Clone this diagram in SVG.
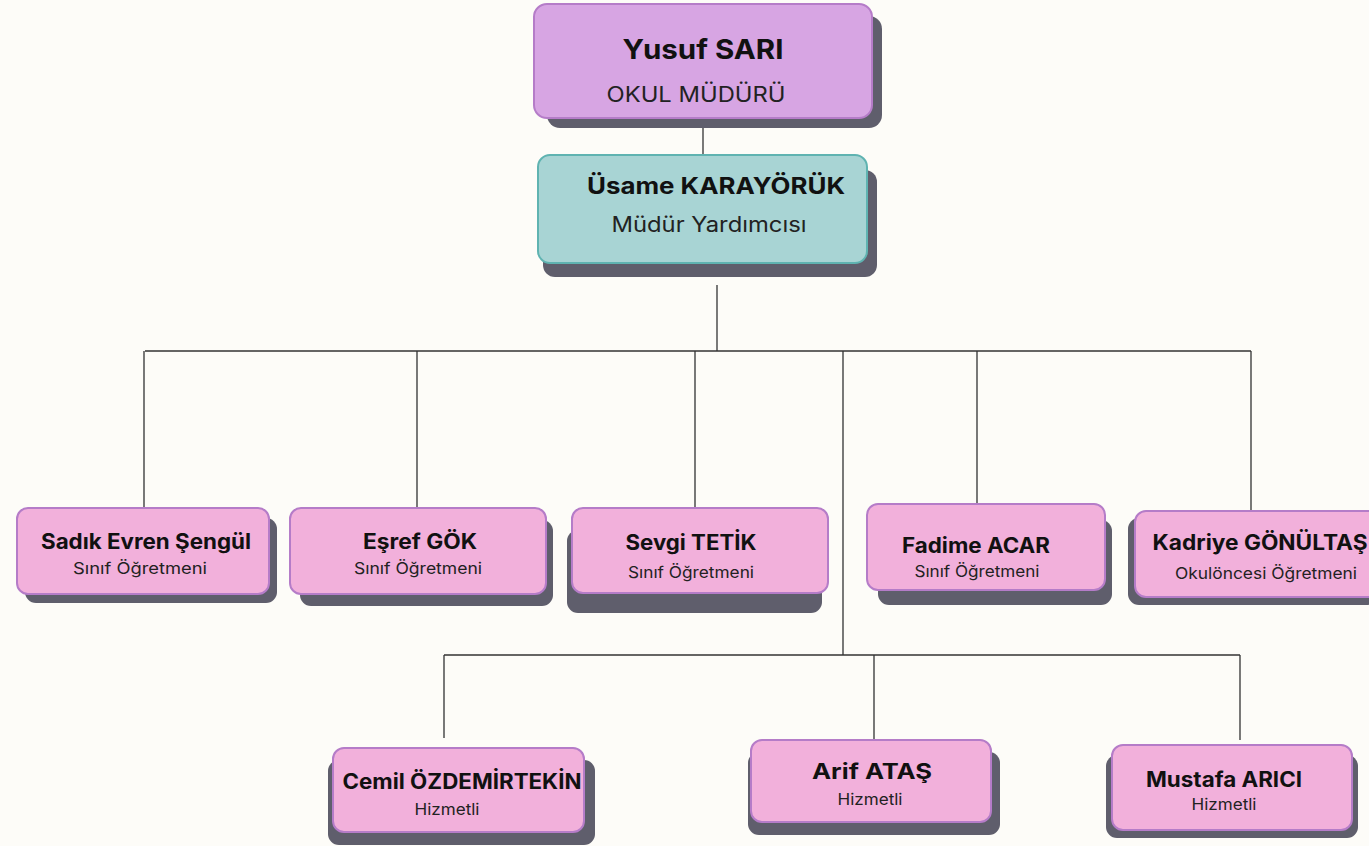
<svg xmlns="http://www.w3.org/2000/svg" width="1369" height="846" viewBox="0 0 1369 846">
<style>
.bg{fill:#fdfcf8}
.sh{fill:#5f5e6c}
.pk{fill:#f2b0db;stroke:#b57cc8;stroke-width:2}
.pu{fill:#d7a5e3;stroke:#b57cc8;stroke-width:2}
.tl{fill:#a8d4d4;stroke:#5fb3b1;stroke-width:2}
.n{font-family:Inter,"Liberation Sans",sans-serif;font-weight:700;fill:#111;text-anchor:middle;font-size:21px}
.r{font-family:Inter,"Liberation Sans",sans-serif;font-weight:400;fill:#222;text-anchor:middle;font-size:16px}
.c{fill:none;stroke:#333;stroke-width:1.3}
</style>
<rect class="bg" x="0" y="0" width="1369" height="846"/>
<g id="connectors">
<path class="c" d="M703 118V155"/>
<path class="c" d="M717 285V351"/>
<path class="c" d="M145 351H1251"/>
<path class="c" d="M144 351V508M417 351V508M695 351V508M843 351V655M977 351V504M1251 351V511"/>
<path class="c" d="M444 655H1240"/>
<path class="c" d="M444 655V738M874 655V741M1240 655V740"/>
</g>
<g id="n-yusuf">
<rect class="sh" x="547" y="16" width="335" height="112" rx="13"/>
<rect class="pu" x="534" y="4" width="338" height="114" rx="13"/>
<text class="n" x="703" y="59" style="font-size:27px" textLength="161" lengthAdjust="spacingAndGlyphs">Yusuf SARI</text>
<text class="r" x="696" y="102" style="font-size:21px" textLength="179" lengthAdjust="spacingAndGlyphs">OKUL MÜDÜRÜ</text>
</g>
<g id="n-usame">
<rect class="sh" x="543" y="170" width="334" height="107" rx="12"/>
<rect class="tl" x="538" y="155" width="329" height="108" rx="12"/>
<text class="n" x="716" y="194" style="font-size:23px" textLength="258" lengthAdjust="spacingAndGlyphs">Üsame KARAYÖRÜK</text>
<text class="r" x="709" y="232" style="font-size:21px" textLength="195" lengthAdjust="spacingAndGlyphs">Müdür Yardımcısı</text>
</g>
<g id="n-sadik">
<rect class="sh" x="25" y="518" width="252" height="85" rx="11"/>
<rect class="pk" x="17" y="508" width="252" height="86" rx="11"/>
<text class="n" x="146" y="549" textLength="210" lengthAdjust="spacingAndGlyphs">Sadık Evren Şengül</text>
<text class="r" x="140" y="574" textLength="134" lengthAdjust="spacingAndGlyphs">Sınıf Öğretmeni</text>
</g>
<g id="n-esref">
<rect class="sh" x="300" y="520" width="253" height="86" rx="11"/>
<rect class="pk" x="290" y="508" width="256" height="86" rx="11"/>
<text class="n" x="420" y="549" textLength="114" lengthAdjust="spacingAndGlyphs">Eşref GÖK</text>
<text class="r" x="418" y="574" textLength="128" lengthAdjust="spacingAndGlyphs">Sınıf Öğretmeni</text>
</g>
<g id="n-sevgi">
<rect class="sh" x="567" y="530" width="255" height="83" rx="11"/>
<rect class="pk" x="572" y="508" width="256" height="85" rx="11"/>
<text class="n" x="691" y="550" textLength="131" lengthAdjust="spacingAndGlyphs">Sevgi TETİK</text>
<text class="r" x="691" y="578" textLength="126" lengthAdjust="spacingAndGlyphs">Sınıf Öğretmeni</text>
</g>
<g id="n-fadime">
<rect class="sh" x="878" y="520" width="234" height="85" rx="11"/>
<rect class="pk" x="867" y="504" width="238" height="86" rx="11"/>
<text class="n" x="976" y="553" textLength="148" lengthAdjust="spacingAndGlyphs">Fadime ACAR</text>
<text class="r" x="977" y="577" textLength="125" lengthAdjust="spacingAndGlyphs">Sınıf Öğretmeni</text>
</g>
<g id="n-kadriye">
<rect class="sh" x="1128" y="518" width="250" height="87" rx="11"/>
<rect class="pk" x="1135" y="511" width="245" height="86" rx="11"/>
<text class="n" x="1260" y="550" textLength="215" lengthAdjust="spacingAndGlyphs">Kadriye GÖNÜLTAŞ</text>
<text class="r" x="1266" y="579" textLength="182" lengthAdjust="spacingAndGlyphs">Okulöncesi Öğretmeni</text>
</g>
<g id="n-cemil">
<rect class="sh" x="328" y="760" width="267" height="85" rx="11"/>
<rect class="pk" x="333" y="748" width="251" height="84" rx="11"/>
<text class="n" x="462" y="789" textLength="239" lengthAdjust="spacingAndGlyphs">Cemil ÖZDEMİRTEKİN</text>
<text class="r" x="447" y="815" textLength="65" lengthAdjust="spacingAndGlyphs">Hizmetli</text>
</g>
<g id="n-arif">
<rect class="sh" x="748" y="752" width="252" height="83" rx="11"/>
<rect class="pk" x="751" y="740" width="240" height="82" rx="11"/>
<text class="n" x="872" y="779" textLength="120" lengthAdjust="spacingAndGlyphs">Arif ATAŞ</text>
<text class="r" x="870" y="805" textLength="65" lengthAdjust="spacingAndGlyphs">Hizmetli</text>
</g>
<g id="n-mustafa">
<rect class="sh" x="1106" y="755" width="252" height="83" rx="11"/>
<rect class="pk" x="1112" y="745" width="240" height="85" rx="11"/>
<text class="n" x="1224" y="787" textLength="156" lengthAdjust="spacingAndGlyphs">Mustafa ARICI</text>
<text class="r" x="1224" y="810" textLength="65" lengthAdjust="spacingAndGlyphs">Hizmetli</text>
</g>
</svg>
